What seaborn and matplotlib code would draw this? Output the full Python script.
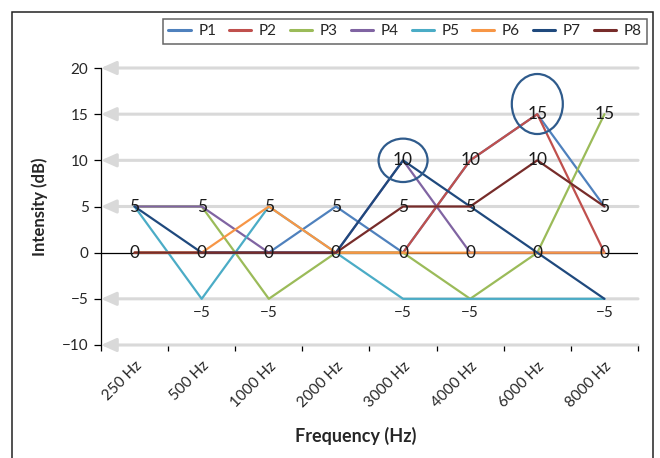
import numpy as np
import pandas as pd
import matplotlib
matplotlib.use("Agg")
import matplotlib.pyplot as plt
from matplotlib.patches import Ellipse, Rectangle
import seaborn as sns

# --- data ---
freqs = ['250 Hz', '500 Hz', '1000 Hz', '2000 Hz', '3000 Hz', '4000 Hz', '6000 Hz', '8000 Hz']
p1 = [0, 0, 0, 5, 0, 10, 15, 5]
p2 = [0, 0, 0, 0, 0, 10, 15, 0]
p3 = [5, 5, -5, 0, 0, -5, 0, 15]
p4 = [5, 5, 0, 0, 10, 0, 0, 0]
p5 = [5, -5, 5, 0, -5, -5, -5, -5]
p6 = [0, 0, 5, 0, 0, 0, 0, 0]
p7 = [5, 0, 0, 0, 10, 5, 0, -5]
p8 = [0, 0, 0, 0, 5, 5, 10, 5]
series_names = ['P1', 'P2', 'P3', 'P4', 'P5', 'P6', 'P7', 'P8']
colors = ['#4F81BD', '#C0504D', '#9BBB59', '#8064A2', '#4BACC6', '#F79646', '#1F497D', '#772C2A']

# value labels that appear at each frequency
label_values = [[5, 0], [5, 0, -5], [5, 0, -5], [5, 0], [10, 5, 0, -5],
                [10, 5, 0, -5], [15, 10, 0], [15, 5, 0, -5]]

# highlighted points: (frequency index, centre y, width, height)
highlights = [(4, 10.0, 0.73, 4.7), (6, 16.1, 0.76, 6.5)]

df = pd.DataFrame({'Frequency': freqs, 'P1': p1, 'P2': p2, 'P3': p3, 'P4': p4,
                   'P5': p5, 'P6': p6, 'P7': p7, 'P8': p8})
df['x'] = np.arange(len(freqs))
long_df = df.melt(id_vars=['Frequency', 'x'], value_vars=series_names,
                  var_name='Series', value_name='dB')

# --- style ---
sns.set_style("white")
plt.rcParams['font.family'] = ['Lato', 'DejaVu Sans']
plt.rcParams['text.color'] = '#262626'

fig = plt.figure(figsize=(6.6, 4.58), dpi=100)
ax = fig.add_axes([101 / 660, 1 - 345 / 458, 537 / 660, 277 / 458])

sns.lineplot(data=long_df, x='x', y='dB', hue='Series', hue_order=series_names,
             palette=colors, linewidth=1.6, ax=ax, zorder=3)

ax.set_xlim(-0.5, 7.5)
ax.set_ylim(-10, 20)

# grey gridlines with arrow heads on the left
for yv in [-10, -5, 5, 10, 15, 20]:
    ax.annotate('', xy=(-0.5, yv), xytext=(7.5, yv), annotation_clip=False, zorder=1,
                arrowprops=dict(arrowstyle='-|>,head_length=0.9,head_width=0.4',
                                color='#d9d9d9', lw=2.2, shrinkA=0, shrinkB=0))
ax.axhline(0, color='black', lw=0.9, zorder=1.5)

# axes / ticks
for s in ['top', 'right', 'bottom']:
    ax.spines[s].set_visible(False)
ax.spines['left'].set_color('black')
ax.spines['left'].set_linewidth(0.9)
ax.set_yticks([-10, -5, 0, 5, 10, 15, 20])
ax.tick_params(axis='y', direction='out', length=5, width=0.9, color='black',
               labelsize=11, labelcolor='#262626', pad=4, left=True)
ax.set_xticks(df['x'])
ax.set_xticklabels(freqs, rotation=45, ha='right', rotation_mode='anchor')
ax.set_xticks(np.arange(-0.5, 8, 1), minor=True)
ax.tick_params(axis='x', which='major', length=0, labelsize=11, labelcolor='#262626', pad=10)
ax.tick_params(axis='x', which='minor', direction='out', length=4, width=0.9,
               color='black', bottom=True)
ax.set_xlabel('')
ax.set_ylabel('')

# value labels
for i, vals in enumerate(label_values):
    for v in vals:
        if v < 0:
            ax.annotate(f'{v}'.replace('-', '\u2212'), xy=(i, v), xytext=(0, -10),
                        textcoords='offset points', ha='center', va='center',
                        fontsize=11, color='#262626', zorder=6)
        else:
            ax.text(i, v, f'{v}', ha='center', va='center', fontsize=12.5,
                    color='#1a1a1a', zorder=6)

# circled points
for xi, yc, w, h in highlights:
    ax.add_patch(Ellipse((xi, yc), w, h, fill=False, edgecolor='#2F5B8C', lw=1.6,
                         zorder=7, clip_on=False))

# legend along the top
handles, labels = ax.get_legend_handles_labels()
ax.get_legend().remove()
for hd in handles:
    hd.set_linewidth(2.2)
leg = fig.legend(handles, labels, ncol=8, loc='upper right',
                 bbox_to_anchor=(647 / 660, 1 - 19 / 458), frameon=True, fancybox=False,
                 edgecolor='#3f3f3f', borderaxespad=0, fontsize=11, handlelength=1.45,
                 handletextpad=0.5, columnspacing=0.85, borderpad=0.35)
leg.get_frame().set_linewidth(1.1)

# axis titles
fig.text(40 / 660, 1 - 207 / 458, 'Intensity (dB)', rotation=90, ha='center', va='center',
         fontsize=12, fontweight='bold', color='#262626')
fig.text(356 / 660, 1 - 436 / 458, 'Frequency (Hz)', ha='center', va='center',
         fontsize=13, fontweight='bold', color='#262626')

# outer frame (open at the bottom)
fig.add_artist(Rectangle((12 / 660, -0.1), 641 / 660, 1.1 - 12 / 458,
                         transform=fig.transFigure, fill=False,
                         edgecolor='#222222', lw=1.1))

plt.savefig('out.png', dpi=100)
